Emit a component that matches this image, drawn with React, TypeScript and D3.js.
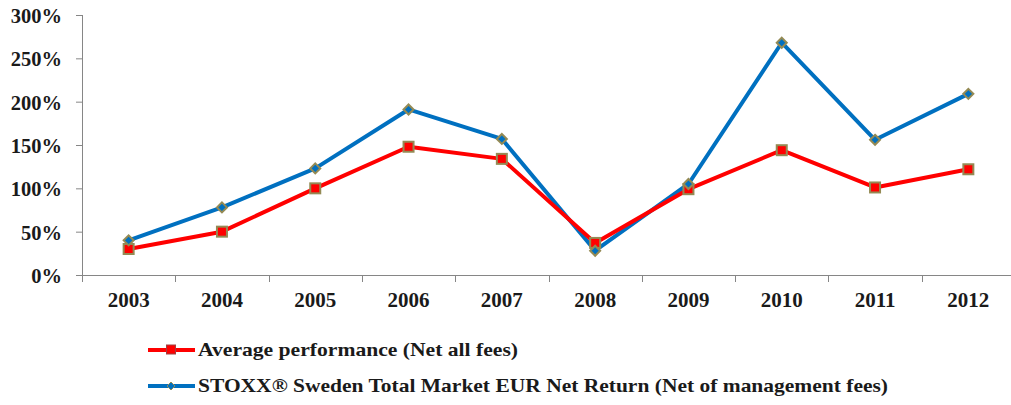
import React, { useEffect, useRef } from "react";
import * as d3 from "d3";

const years = ["2003", "2004", "2005", "2006", "2007", "2008", "2009", "2010", "2011", "2012"];
const avgPerformance = [30, 50, 100, 148, 134, 37, 99, 144, 101, 122];
const stoxxSweden = [40, 78, 123, 191, 157, 28, 105, 268, 156, 209];
const yTicks = [0, 50, 100, 150, 200, 250, 300];
const legendLabels = [
  "Average performance (Net all fees)",
  "STOXX® Sweden Total Market EUR Net Return (Net of management fees)",
];

const RED = "#ff0000";
const BLUE = "#0070c0";
const MARKER_EDGE = "#948a54";
const FONT = "'Liberation Serif', serif";

const App: React.FC = () => {
  const svgRef = useRef<SVGSVGElement | null>(null);

  useEffect(() => {
    if (!svgRef.current) return;
    const svg = d3.select(svgRef.current);
    svg.selectAll("*").remove();

    const left = 82;
    const right = 1015;
    const top = 15;
    const bottom = 275;

    const x = d3.scaleBand().domain(years).range([left, right]);
    const y = d3.scaleLinear().domain([0, 300]).range([bottom, top]);

    // y axis
    const yAxis = svg.append("g").attr("transform", `translate(${left},0)`);
    yAxis
      .call(d3.axisLeft(y).tickValues(yTicks).tickSize(6).tickFormat((d) => `${d}%`))
      .call((g) => g.select(".domain").attr("stroke", "#868686").attr("d", `M0.5,${top}V${bottom}`));
    yAxis.selectAll(".tick line").attr("stroke", "#868686");
    yAxis
      .selectAll(".tick text")
      .attr("x", -20)
      .attr("dy", "0.36em")
      .attr("font-family", FONT)
      .attr("font-size", 20.5)
      .attr("font-weight", "bold")
      .attr("fill", "#1a1a1a");

    // x axis
    const xAxis = svg.append("g").attr("transform", `translate(0,${bottom})`);
    xAxis
      .append("line")
      .attr("x1", left)
      .attr("x2", right)
      .attr("y1", 0.5)
      .attr("y2", 0.5)
      .attr("stroke", "#868686");
    const bounds = years.map((yr) => x(yr)!).concat([right]);
    xAxis
      .selectAll("line.tk")
      .data(bounds)
      .enter()
      .append("line")
      .attr("class", "tk")
      .attr("x1", (d) => Math.round(d) + 0.5)
      .attr("x2", (d) => Math.round(d) + 0.5)
      .attr("y1", 0)
      .attr("y2", 7)
      .attr("stroke", "#868686");
    xAxis
      .selectAll("text")
      .data(years)
      .enter()
      .append("text")
      .attr("x", (d) => x(d)! + x.bandwidth() / 2)
      .attr("y", 32)
      .attr("text-anchor", "middle")
      .attr("font-family", FONT)
      .attr("font-size", 21)
      .attr("font-weight", "bold")
      .attr("fill", "#1a1a1a")
      .text((d) => d);

    const cx = (i: number) => x(years[i])! + x.bandwidth() / 2;
    const line = d3
      .line<number>()
      .x((_, i) => cx(i))
      .y((d) => y(d));

    // blue series
    svg
      .append("path")
      .datum(stoxxSweden)
      .attr("d", line)
      .attr("fill", "none")
      .attr("stroke", BLUE)
      .attr("stroke-width", 4)
      .attr("stroke-linejoin", "round");

    // red series
    svg
      .append("path")
      .datum(avgPerformance)
      .attr("d", line)
      .attr("fill", "none")
      .attr("stroke", RED)
      .attr("stroke-width", 4)
      .attr("stroke-linejoin", "round");

    svg
      .selectAll("rect.mk")
      .data(avgPerformance)
      .enter()
      .append("rect")
      .attr("class", "mk")
      .attr("x", (_, i) => cx(i) - 5)
      .attr("y", (d) => y(d) - 5)
      .attr("width", 10)
      .attr("height", 10)
      .attr("fill", RED)
      .attr("stroke", MARKER_EDGE)
      .attr("stroke-width", 2);

    svg
      .selectAll("path.dm")
      .data(stoxxSweden)
      .enter()
      .append("path")
      .attr("class", "dm")
      .attr("d", (d, i) => {
        const px = cx(i);
        const py = y(d);
        return `M${px},${py - 5}L${px + 5},${py}L${px},${py + 5}L${px - 5},${py}Z`;
      })
      .attr("fill", BLUE)
      .attr("stroke", MARKER_EDGE)
      .attr("stroke-width", 2);

    // legend
    const legend = [
      { label: legendLabels[0], color: RED, marker: "square", width: 320 },
      { label: legendLabels[1], color: BLUE, marker: "diamond", width: 690 },
    ];
    legend.forEach((item, i) => {
      const ly = 350 + i * 36;
      const g = svg.append("g");
      g.append("line")
        .attr("x1", 148)
        .attr("x2", 195)
        .attr("y1", ly)
        .attr("y2", ly)
        .attr("stroke", item.color)
        .attr("stroke-width", 4);
      if (item.marker === "square") {
        g.append("rect")
          .attr("x", 166.5)
          .attr("y", ly - 5)
          .attr("width", 9)
          .attr("height", 9)
          .attr("fill", item.color)
          .attr("stroke", "#a04040")
          .attr("stroke-width", 1);
      } else {
        g.append("path")
          .attr("d", `M171,${ly - 4}L175,${ly}L171,${ly + 4}L167,${ly}Z`)
          .attr("fill", item.color)
          .attr("stroke", MARKER_EDGE)
          .attr("stroke-width", 1);
      }
      g.append("text")
        .attr("x", 198)
        .attr("y", ly + 6)
        .attr("font-family", FONT)
        .attr("font-size", 19.5)
        .attr("font-weight", "bold")
        .attr("fill", "#1a1a1a")
        .attr("textLength", item.width)
        .attr("lengthAdjust", "spacingAndGlyphs")
        .text(item.label);
    });
  }, []);

  return (
    <svg
      ref={svgRef}
      width={1011}
      height={405}
      style={{ position: "absolute", left: 0, top: 0, background: "#fff" }}
    ></svg>
  );
};

export default App;
